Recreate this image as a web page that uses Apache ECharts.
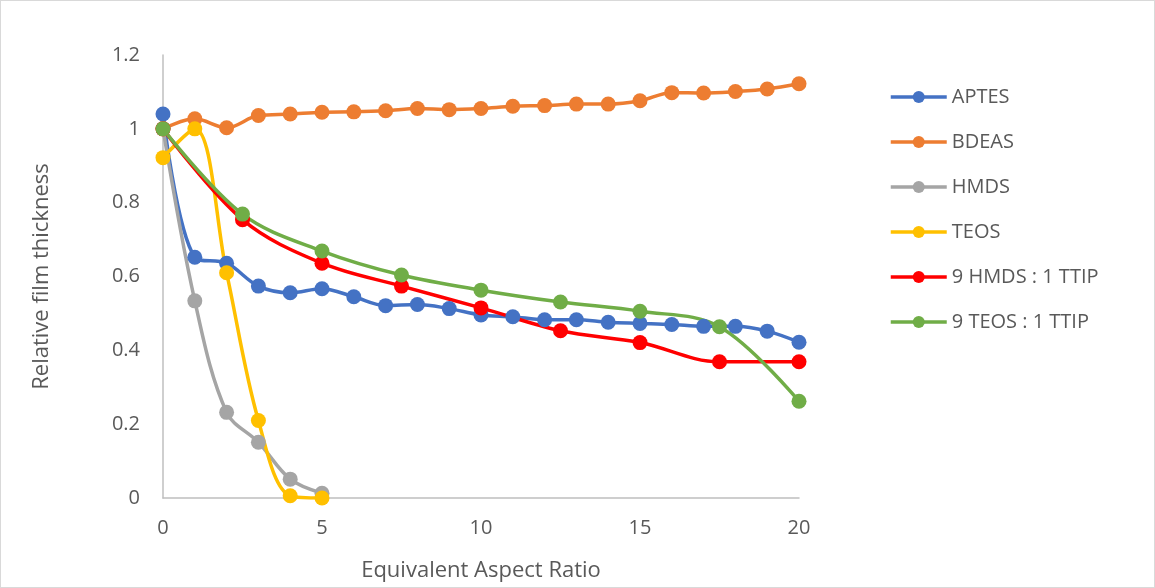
<!DOCTYPE html>
<html>
<head>
<meta charset="utf-8">
<script src="https://cdn.jsdelivr.net/npm/echarts@6/dist/echarts.min.js"></script>
<style>
html,body{margin:0;padding:0;background:#fff;}
#c{width:1155px;height:588px;box-sizing:border-box;border:1px solid #d9d9d9;}
</style>
</head>
<body>
<div id="c"></div>
<script>
var xFull = [0,1,2,3,4,5,6,7,8,9,10,11,12,13,14,15,16,17,18,19,20];
var xShort = [0,1,2,3,4,5];
var xMix = [0,2.5,5,7.5,10,12.5,15,17.5,20];
var aptes = [1.04,0.652,0.636,0.574,0.556,0.567,0.545,0.521,0.524,0.513,0.496,0.491,0.483,0.483,0.476,0.473,0.47,0.465,0.465,0.452,0.422];
var bdeas = [1.0,1.027,1.003,1.036,1.04,1.045,1.046,1.049,1.055,1.052,1.055,1.061,1.063,1.067,1.067,1.076,1.098,1.097,1.101,1.108,1.122];
var hmds = [1.0,0.534,0.232,0.151,0.051,0.013];
var teos = [0.922,1.0,0.61,0.21,0.006,0.0];
var hmdsTtip = [1.0,0.754,0.636,0.574,0.515,0.453,0.421,0.369,0.369];
var teosTtip = [1.0,0.769,0.669,0.604,0.563,0.531,0.506,0.464,0.262];
var names = ['APTES','BDEAS','HMDS','TEOS','9 HMDS : 1 TTIP','9 TEOS : 1 TTIP'];
var colors = ['#4472C4','#ED7D31','#A5A5A5','#FFC000','#FF0000','#70AD47'];
var xTickLabels = ['0','5','10','15','20'];
var yTickLabels = ['0','0.2','0.4','0.6','0.8','1','1.2'];

function pairs(xs, ys){ return xs.map(function(x,i){ return [x, ys[i]]; }); }
var sets = [pairs(xFull,aptes), pairs(xFull,bdeas), pairs(xShort,hmds), pairs(xShort,teos), pairs(xMix,hmdsTtip), pairs(xMix,teosTtip)];

var font = 'Open Sans';
var chart = echarts.init(document.getElementById('c'));
chart.setOption({
  animation:false,
  textStyle:{fontFamily:font},
  grid:{left:162,right:355,top:54,bottom:89},
  legend:{
    orient:'vertical', left:883, top:81,
    itemWidth:56, itemHeight:15, itemGap:25,
    lineStyle:{width:3.5},
    textStyle:{fontFamily:font,fontSize:20,color:'#595959'},
    data:names
  },
  xAxis:{
    type:'value', min:0, max:20, interval:5,
    name:'Equivalent Aspect Ratio', nameLocation:'middle', nameGap:62,
    nameTextStyle:{fontFamily:font,fontSize:22,color:'#595959'},
    axisLine:{show:true,lineStyle:{color:'#bfbfbf',width:1.5}},
    axisTick:{show:false},
    splitLine:{show:false},
    axisLabel:{fontFamily:font,fontSize:20,color:'#595959',margin:20,
      formatter:function(v){ var i = xTickLabels.indexOf(String(v)); return i>=0 ? xTickLabels[i] : ''; }}
  },
  yAxis:{
    type:'value', min:0, max:1.2, interval:0.2,
    name:'Relative film thickness', nameLocation:'middle', nameGap:110,
    nameTextStyle:{fontFamily:font,fontSize:22,color:'#595959'},
    axisLine:{show:true,lineStyle:{color:'#bfbfbf',width:1.5}},
    axisTick:{show:false},
    splitLine:{show:false},
    axisLabel:{fontFamily:font,fontSize:20,color:'#595959',margin:23,
      formatter:function(v){ var i = Math.round(v/0.2); return yTickLabels[i]; }}
  },
  series: names.map(function(n,i){
    return {
      name:n, type:'line', data:sets[i], smooth:0.35,
      symbol:'circle', symbolSize:15,
      itemStyle:{color:colors[i]},
      lineStyle:{color:colors[i],width:3.5}
    };
  })
});
</script>
</body>
</html>
